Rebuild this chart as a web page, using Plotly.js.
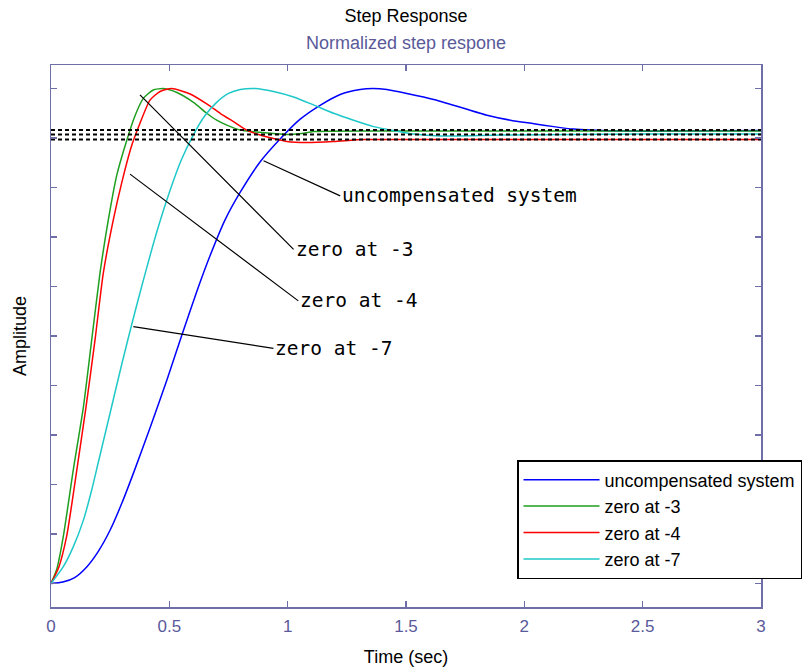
<!DOCTYPE html>
<html>
<head>
<meta charset="utf-8">
<script src="https://cdn.plot.ly/plotly-3.0.1.min.js"></script>
<style>
html,body{margin:0;padding:0;background:#fff;}
#chart{width:809px;height:671px;}
</style>
</head>
<body>
<div id="chart"></div>
<script>
// ---- data ----
const seriesNames = ["uncompensated system", "zero at -3", "zero at -4", "zero at -7"];

const tBlue = [0, 0.05, 0.10, 0.15, 0.20, 0.25, 0.30, 0.35, 0.419, 0.489, 0.553, 0.616, 0.672, 0.736, 0.799, 0.884, 0.968, 1.053, 1.137, 1.222, 1.306, 1.36, 1.419, 1.504, 1.617, 1.744, 1.842, 1.941, 2.040, 2.124, 2.208, 2.279, 2.427, 2.6, 3.0];
const ampBlue = [0, 0.003, 0.012, 0.033, 0.065, 0.108, 0.163, 0.225, 0.315, 0.410, 0.502, 0.590, 0.662, 0.735, 0.790, 0.852, 0.898, 0.938, 0.966, 0.988, 0.998, 1.0, 0.998, 0.990, 0.978, 0.960, 0.946, 0.936, 0.929, 0.923, 0.918, 0.916, 0.914, 0.914, 0.915];

const tGreen = [0, 0.025, 0.052, 0.094, 0.137, 0.172, 0.207, 0.242, 0.278, 0.320, 0.355, 0.390, 0.432, 0.475, 0.532, 0.602, 0.658, 0.700, 0.743, 0.799, 0.870, 0.940, 0.997, 1.06, 1.109, 1.5, 2.0, 2.5, 3.0];
const ampGreen = [0, 0.030, 0.095, 0.229, 0.357, 0.492, 0.627, 0.734, 0.825, 0.895, 0.945, 0.980, 0.997, 1.0, 0.992, 0.972, 0.950, 0.936, 0.926, 0.916, 0.912, 0.909, 0.907, 0.909, 0.913, 0.914, 0.914, 0.914, 0.914];

const tRed = [0, 0.033, 0.066, 0.109, 0.148, 0.186, 0.221, 0.263, 0.299, 0.341, 0.376, 0.419, 0.461, 0.510, 0.588, 0.658, 0.715, 0.771, 0.827, 0.884, 0.940, 0.997, 1.081, 1.194, 1.321, 1.5, 2.0, 2.5, 3.0];
const ampRed = [0, 0.033, 0.095, 0.229, 0.357, 0.492, 0.627, 0.734, 0.810, 0.885, 0.930, 0.977, 0.994, 1.0, 0.989, 0.969, 0.950, 0.933, 0.916, 0.906, 0.899, 0.893, 0.891, 0.893, 0.897, 0.897, 0.897, 0.897, 0.897];

const tCyan = [0, 0.052, 0.094, 0.137, 0.172, 0.20, 0.25, 0.30, 0.35, 0.40, 0.45, 0.50, 0.55, 0.60, 0.65, 0.70, 0.75, 0.80, 0.863, 0.940, 1.025, 1.109, 1.194, 1.278, 1.363, 1.447, 1.532, 1.645, 1.90, 2.5, 3.0];
const ampCyan = [0, 0.034, 0.074, 0.128, 0.189, 0.245, 0.345, 0.445, 0.540, 0.630, 0.715, 0.790, 0.855, 0.905, 0.945, 0.972, 0.990, 0.998, 1.0, 0.994, 0.983, 0.967, 0.950, 0.936, 0.923, 0.915, 0.908, 0.904, 0.906, 0.908, 0.908];

const steadyValues = [0.916, 0.907, 0.897];
const steadySpan = [0, 3];

const xTickVals = [0, 0.5, 1, 1.5, 2, 2.5, 3];
const xTickText = ["0", "0.5", "1", "1.5", "2", "2.5", "3"];

// callout labels: label, tip (t, amp), tail (t, amp)
const calloutLabels = ["uncompensated system", "zero at -3", "zero at -4", "zero at -7"];
const calloutTipT = [0.898, 0.376, 0.334, 0.348];
const calloutTipA = [0.854, 0.987, 0.827, 0.519];
const calloutTailT = [1.222, 1.025, 1.045, 0.940];
const calloutTailA = [0.783, 0.675, 0.571, 0.475];

// ---- styles ----
const colors = ["#0000ff", "#1f9f1f", "#ff0000", "#1fc8c8"];
const axisColor = "#6e6ea8";
const labelColor = "#5a5a9a";
const sans = "Liberation Sans, Arial, sans-serif";

const xs = [tBlue, tGreen, tRed, tCyan];
const ys = [ampBlue, ampGreen, ampRed, ampCyan];

const traces = seriesNames.map((n, i) => ({
  type: "scatter", mode: "lines", name: n,
  x: xs[i], y: ys[i],
  line: {color: colors[i], width: 1.5, shape: "spline", smoothing: 0.6}
}));

steadyValues.forEach(v => {
  traces.push({
    type: "scatter", mode: "lines", showlegend: false, hoverinfo: "skip",
    x: steadySpan, y: steadySpan.map(() => v),
    line: {color: "#000", width: 2, dash: "4px,3px"}
  });
});

const annotations = calloutLabels.map((txt, i) => ({
  x: calloutTipT[i], y: calloutTipA[i], xref: "x", yref: "y",
  ax: calloutTailT[i], ay: calloutTailA[i], axref: "x", ayref: "y",
  text: txt, showarrow: true, arrowhead: 0, arrowwidth: 1.2, arrowcolor: "#000",
  xanchor: "left", yanchor: "middle",
  font: {family: "DejaVu Sans Mono, monospace", size: 19.5, color: "#000"}
}));

annotations.push({
  text: "Normalized step respone", xref: "paper", yref: "paper",
  x: 0.5, y: 1 + (65 - 43) / 542, xanchor: "center", yanchor: "middle",
  showarrow: false, font: {family: sans, size: 18, color: labelColor}
});

const layout = {
  width: 809, height: 671,
  margin: {l: 51, r: 48, t: 65, b: 64, autoexpand: false},
  paper_bgcolor: "#fff", plot_bgcolor: "#fff",
  showlegend: true,
  title: {text: "Step Response", x: 0.5, xanchor: "center", xref: "paper",
          y: 1 - 16 / 671, yref: "container", yanchor: "middle",
          font: {family: sans, size: 18, color: "#000"}},
  xaxis: {
    range: [0, 3], tickvals: xTickVals, ticktext: xTickText,
    showgrid: false, zeroline: false,
    showline: true, linecolor: axisColor, linewidth: 1.5, mirror: "ticks",
    ticks: "inside", ticklen: 6, tickwidth: 1.5, tickcolor: axisColor,
    ticklabelstandoff: 3,
    tickfont: {family: sans, size: 17, color: labelColor},
    title: {text: "Time (sec)", font: {family: sans, size: 18, color: "#000"}, standoff: 15}
  },
  yaxis: {
    range: [-0.0475, 1.0475], tick0: 0, dtick: 0.1,
    showticklabels: false, showgrid: false, zeroline: false,
    showline: true, linecolor: axisColor, linewidth: 1.5, mirror: "ticks",
    ticks: "inside", ticklen: 6, tickwidth: 1.5, tickcolor: axisColor,
    title: {text: "Amplitude", font: {family: sans, size: 18, color: "#000"}, standoff: 18}
  },
  legend: {
    x: (517 - 51) / 710, xanchor: "left", y: (607 - 460) / 542, yanchor: "top",
    bgcolor: "#fff", bordercolor: "#000", borderwidth: 1.5,
    font: {family: sans, size: 18, color: "#000"},
    itemwidth: 76, tracegroupgap: 0
  },
  annotations: annotations
};

Plotly.newPlot("chart", traces, layout, {displayModeBar: false, staticPlot: true});
</script>
</body>
</html>
